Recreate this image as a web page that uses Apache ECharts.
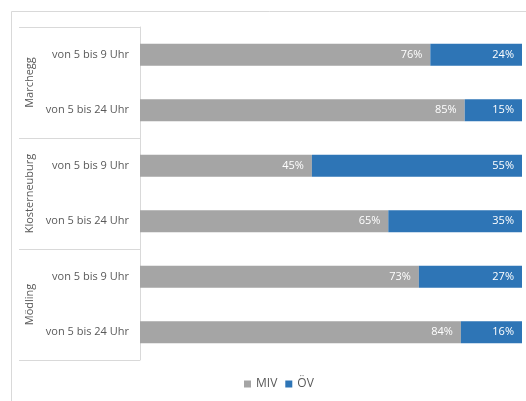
<!DOCTYPE html>
<html lang="en">
<head>
    <meta charset="UTF-8">
    <title>MIV / ÖV</title>
    <style>
        html, body { margin: 0; padding: 0; background: #fff; }
        #chart { width: 526px; height: 401px; }
    </style>
</head>
<body>
<div id="chart"></div>
<script src="https://cdn.jsdelivr.net/npm/echarts@6/dist/echarts.min.js"></script>
<script>
    // Kategorien (oben nach unten)
    var zeitraeume = ['von 5 bis 9 Uhr', 'von 5 bis 24 Uhr', 'von 5 bis 9 Uhr', 'von 5 bis 24 Uhr', 'von 5 bis 9 Uhr', 'von 5 bis 24 Uhr']
    var orte = ['Marchegg', 'Klosterneuburg', 'Mödling']
    // Anteile in %
    var miv = [76, 85, 45, 65, 73, 84]
    var oev = [24, 15, 55, 35, 27, 16]

    var font = '"Open Sans", "Liberation Sans", sans-serif'
    var chart = echarts.init(document.getElementById('chart'))
    chart.setOption({
        backgroundColor: '#fff',
        animation: false,
        textStyle: { fontFamily: font },
        graphic: [{
            type: 'rect',
            shape: { x: 11.5, y: 11.5, width: 600, height: 500 },
            style: { fill: 'none', stroke: '#d9d9d9', lineWidth: 1 },
            silent: true
        }],
        legend: {
            bottom: 6,
            left: 239,
            icon: 'rect',
            itemWidth: 7,
            itemHeight: 7,
            itemGap: 8,
            textStyle: { color: '#595959', fontSize: 12, fontFamily: font },
            data: ['MIV', 'ÖV']
        },
        grid: { left: 140, right: 4, top: 27, bottom: 41, containLabel: false },
        xAxis: { type: 'value', min: 0, max: 100, show: false },
        yAxis: [{
            type: 'category',
            position: 'left',
            inverse: true,
            data: zeitraeume,
            axisLine: { show: false },
            axisTick: { show: false },
            axisLabel: { color: '#595959', fontSize: 11, margin: 11, fontFamily: font }
        }, {
            type: 'category',
            position: 'left',
            inverse: true,
            data: orte,
            axisLine: { show: true, lineStyle: { color: '#d9d9d9' } },
            axisTick: { show: true, length: 121, lineStyle: { color: '#d9d9d9' } },
            axisLabel: { color: '#595959', fontSize: 11, rotate: 90, margin: 105, fontFamily: font }
        }],
        series: [{
            name: 'MIV',
            type: 'bar',
            stack: 'total',
            barWidth: 22,
            data: miv,
            itemStyle: { color: '#a5a5a5' },
            label: { show: true, position: 'insideRight', distance: 8, color: '#fff', fontSize: 11, formatter: '{c}%' }
        }, {
            name: 'ÖV',
            type: 'bar',
            stack: 'total',
            barWidth: 22,
            data: oev,
            itemStyle: { color: '#2e75b6' },
            label: { show: true, position: 'insideRight', distance: 8, color: '#fff', fontSize: 11, formatter: '{c}%' }
        }]
    })
</script>
</body>
</html>
